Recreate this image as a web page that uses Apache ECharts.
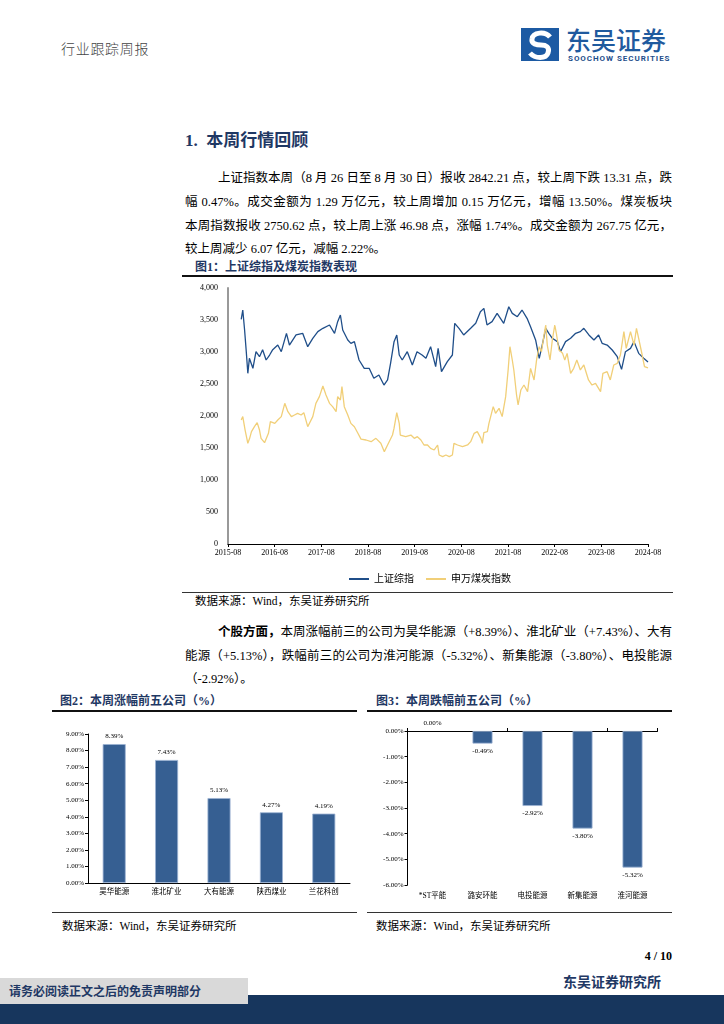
<!DOCTYPE html>
<html><head><meta charset="utf-8">
<script src="https://cdn.jsdelivr.net/npm/echarts/dist/echarts.min.js"></script>
<style>
body{margin:0;width:724px;height:1024px;background:#fff;overflow:hidden;position:relative;font-family:"Liberation Serif","Noto Sans CJK SC",serif;color:#000;}
.a{position:absolute;}
.t{position:absolute;white-space:nowrap;}
.j{position:absolute;text-align:justify;text-align-last:justify;font-size:12.5px;line-height:24px;height:24px;overflow:visible;}
.hd{font-weight:bold;color:#1f3864;font-size:12px;}
.src{font-size:11.5px;}
</style></head><body>

<div class="t" style="left:61px;top:38px;font-size:14px;color:#444;letter-spacing:0.7px;font-family:'Noto Sans CJK SC';font-weight:300">行业跟踪周报</div>
<svg class="a" style="left:521px;top:28px" width="38" height="33"><rect width="38" height="33" fill="#1c5aa3"/><path d="M29,9 C24,3 12,4 11,11 C10,16 16,17 20,17 C25,17 29,19 27,25 C25,31 14,31 9,25" fill="none" stroke="#fff" stroke-width="5"/></svg>
<div class="t" style="left:566px;top:21px;font-size:25px;color:#1f5a9e;font-family:'Noto Sans CJK SC';font-weight:500">东吴证券</div>
<div class="t" style="left:568px;top:54px;font-size:8px;font-weight:bold;color:#1f4f8c;letter-spacing:0.95px;font-family:Roboto">SOOCHOW SECURITIES</div>

<div class="t" style="left:185px;top:126px;font-size:17px;font-weight:bold;color:#1f3864">1.&nbsp;&nbsp;本周行情回顾</div>

<div class="j" style="left:218px;top:166px;width:454px">上证指数本周（8 月 26 日至 8 月 30 日）报收 2842.21 点，较上周下跌 13.31 点，跌</div>
<div class="j" style="left:185px;top:190px;width:487px">幅 0.47%。成交金额为 1.29 万亿元，较上周增加 0.15 万亿元，增幅 13.50%。煤炭板块</div>
<div class="j" style="left:185px;top:214px;width:487px">本周指数报收 2750.62 点，较上周上涨 46.98 点，涨幅 1.74%。成交金额为 267.75 亿元，</div>
<div class="t" style="left:185px;top:237px;font-size:12.5px;line-height:24px">较上周减少 6.07 亿元，减幅 2.22%。</div>

<div class="t hd" style="left:195px;top:257px">图1：上证综指及煤炭指数表现</div>
<div class="a" style="left:182px;top:275px;width:491px;height:2px;background:#111"></div>
<div id="c1" class="a" style="left:180px;top:280px;width:500px;height:310px"></div>
<div class="a" style="left:182px;top:592px;width:491px;height:1px;background:#333"></div>
<div class="t src" style="left:195px;top:592px">数据来源：Wind，东吴证券研究所</div>

<div class="j" style="left:218px;top:620px;width:454px"><b>个股方面，</b>本周涨幅前三的公司为昊华能源（+8.39%）、淮北矿业（+7.43%）、大有</div>
<div class="j" style="left:185px;top:644px;width:487px">能源（+5.13%），跌幅前三的公司为淮河能源（-5.32%）、新集能源（-3.80%）、电投能源</div>
<div class="t" style="left:185px;top:667px;font-size:12.5px;line-height:24px">（-2.92%）。</div>

<div class="t hd" style="left:60px;top:691px">图2：本周涨幅前五公司（%）</div>
<div class="a" style="left:52px;top:710px;width:305px;height:2px;background:#111"></div>
<div class="t hd" style="left:376px;top:691px">图3：本周跌幅前五公司（%）</div>
<div class="a" style="left:367px;top:710px;width:305px;height:2px;background:#111"></div>
<div id="c2" class="a" style="left:52px;top:715px;width:305px;height:195px"></div>
<div id="c3" class="a" style="left:367px;top:715px;width:310px;height:195px"></div>
<div class="a" style="left:52px;top:912px;width:305px;height:1px;background:#333"></div>
<div class="a" style="left:367px;top:912px;width:305px;height:1px;background:#333"></div>
<div class="t src" style="left:62px;top:917px">数据来源：Wind，东吴证券研究所</div>
<div class="t src" style="left:376px;top:917px">数据来源：Wind，东吴证券研究所</div>

<div class="t" style="right:52px;top:949px;font-size:12px;font-weight:bold">4 / 10</div>
<div class="t" style="left:563px;top:971px;font-size:14px;font-weight:bold;color:#1f3864">东吴证券研究所</div>
<div class="a" style="left:0;top:995px;width:724px;height:29px;background:#17365d"></div>
<div class="a" style="left:0;top:978px;width:248px;height:26px;background:#d9d9d9"></div>
<div class="t" style="left:9px;top:982px;font-size:12px;font-weight:bold;color:#1f3864">请务必阅读正文之后的免责声明部分</div>

<script>
// ---------- Figure 1 data ----------
const shDates = ['2015-12-12','2015-12-24','2016-01-08','2016-01-21','2016-02-03','2016-02-15','2016-03-12','2016-04-06','2016-05-03','2016-05-27','2016-06-24','2016-07-21','2016-08-15','2016-09-24','2016-10-21','2016-12-01','2016-12-24','2017-02-15','2017-04-06','2017-05-15','2017-06-24','2017-08-03','2017-09-12','2017-11-03','2017-12-12','2018-01-06','2018-01-27','2018-02-15','2018-02-27','2018-03-24','2018-04-18','2018-05-15','2018-06-21','2018-08-01','2018-09-09','2018-10-15','2018-11-24','2019-01-03','2019-02-01','2019-02-24','2019-03-21','2019-04-12','2019-05-01','2019-05-24','2019-07-03','2019-08-12','2019-09-18','2019-10-27','2019-11-27','2020-01-03','2020-01-18','2020-02-12','2020-03-01','2020-03-27','2020-05-12','2020-06-21','2020-07-09','2020-08-12','2020-09-18','2020-11-12','2020-12-21','2021-01-27','2021-02-24','2021-03-18','2021-04-27','2021-06-06','2021-07-27','2021-09-06','2021-10-03','2021-11-12','2021-12-18','2022-01-27','2022-02-24','2022-04-03','2022-05-01','2022-05-24','2022-06-21','2022-07-15','2022-08-12','2022-09-21','2022-10-15','2022-11-24','2023-01-03','2023-02-12','2023-03-18','2023-04-15','2023-05-24','2023-07-03','2023-08-09','2023-09-06','2023-10-15','2023-11-24','2024-01-03','2024-02-06','2024-03-06','2024-04-15','2024-05-12','2024-06-18','2024-07-27','2024-08-30'];
const shValues = [3510,3656,3344,3005,2667,2901,2745,3005,2927,3036,2875,2953,3036,3109,3005,3292,3109,3266,3292,3083,3214,3318,3370,3422,3292,3474,3578,3344,3318,3188,3135,3162,2875,2745,2745,2589,2641,2484,2563,2823,3162,3266,2953,2875,3005,2797,3005,2953,2901,3083,3109,2771,3057,2693,2849,2953,3448,3370,3266,3370,3448,3630,3682,3422,3474,3604,3448,3708,3604,3552,3656,3526,3396,3188,2901,3109,3370,3292,3214,3162,3005,3162,3214,3292,3318,3370,3266,3188,3266,3135,3109,3031,2927,2729,3005,3057,3162,2979,2901,2842];

const coalDates = ['2015-12-12','2015-12-24','2016-01-12','2016-02-03','2016-02-17','2016-03-01','2016-03-24','2016-04-15','2016-05-03','2016-05-15','2016-06-12','2016-07-12','2016-07-27','2016-09-01','2016-09-24','2016-10-21','2016-11-18','2016-12-01','2016-12-12','2017-01-09','2017-02-03','2017-02-27','2017-03-24','2017-04-15','2017-05-15','2017-06-24','2017-07-18','2017-08-15','2017-09-12','2017-10-06','2017-11-03','2017-11-27','2017-12-24','2018-01-06','2018-01-27','2018-02-09','2018-02-27','2018-03-24','2018-04-18','2018-05-15','2018-06-09','2018-07-06','2018-08-15','2018-09-24','2018-11-01','2018-12-09','2019-01-06','2019-02-01','2019-03-09','2019-03-21','2019-04-12','2019-05-01','2019-05-09','2019-05-24','2019-06-21','2019-07-03','2019-08-01','2019-08-27','2019-09-21','2019-10-18','2019-11-12','2019-12-09','2020-01-03','2020-02-01','2020-02-27','2020-03-09','2020-04-06','2020-05-01','2020-05-27','2020-06-21','2020-07-03','2020-08-01','2020-09-09','2020-10-18','2020-11-12','2020-12-09','2021-01-03','2021-02-01','2021-02-12','2021-02-24','2021-03-21','2021-04-03','2021-05-06','2021-05-24','2021-06-21','2021-07-15','2021-08-12','2021-09-01','2021-09-15','2021-10-03','2021-10-15','2021-11-06','2021-11-18','2021-12-09','2022-01-03','2022-02-01','2022-02-24','2022-03-21','2022-04-12','2022-05-01','2022-05-18','2022-06-06','2022-06-21','2022-07-03','2022-07-24','2022-08-12','2022-09-01','2022-09-15','2022-10-03','2022-11-01','2022-11-18','2022-12-06','2023-01-03','2023-01-27','2023-02-21','2023-03-18','2023-04-15','2023-05-21','2023-06-18','2023-07-15','2023-08-24','2023-09-12','2023-10-15','2023-11-09','2023-12-06','2024-01-03','2024-01-27','2024-02-24','2024-03-12','2024-04-15','2024-05-12','2024-06-01','2024-06-18','2024-07-15','2024-08-03','2024-08-30'];
const coalValues = [1937,1990,1781,1573,1651,1755,1833,1896,1781,1651,1583,1729,1911,1885,1937,1990,2198,2208,2068,1990,2016,2042,2016,2052,1833,1990,2198,2302,2469,2328,2198,2146,2068,2302,2250,2458,2146,2016,1885,1833,1742,1638,1625,1599,1651,1573,1443,1547,1703,1810,2052,1885,1703,1729,1677,1703,1703,1651,1677,1625,1547,1547,1495,1469,1547,1391,1365,1391,1365,1391,1573,1547,1521,1547,1599,1729,1755,1651,1573,1740,1755,1885,2146,2042,2120,1990,2302,2719,3083,2875,2719,2328,2172,2406,2484,2380,2745,2563,2901,3083,3005,3240,3422,3109,2875,3188,3422,3266,3031,2979,2875,2979,2667,2745,2875,2719,2797,2563,2484,2510,2380,2667,2693,2563,2797,2823,2953,3318,3057,3318,3109,3370,3214,2953,2771,2751];

const xTickYears = ['2015-08','2016-08','2017-08','2018-08','2019-08','2020-08','2021-08','2022-08','2023-08','2024-08'];
const seriesNames = ['上证综指','申万煤炭指数'];

// ---------- Figure 2 / 3 data ----------
const gainNames = ['昊华能源','淮北矿业','大有能源','陕西煤业','兰花科创'];
const gainValues = [8.39,7.43,5.13,4.27,4.19];
const lossNames = ['*ST平能','潞安环能','电投能源','新集能源','淮河能源'];
const lossValues = [0.00,-0.49,-2.92,-3.80,-5.32];

const SERIF = '"Liberation Serif","Noto Sans CJK SC",serif';
function toM(s){const p=s.split('-').map(Number);return (p[0]-2015)*12+(p[1]-9)+p[2]/30;}
function pairs(d,v){return d.map((x,i)=>[toM(x),v[i]]);}

const c1 = echarts.init(document.getElementById('c1'));
c1.setOption({
  animation:false,
  grid:{left:48,top:8,width:420,height:256},
  legend:{top:289,left:'center',itemGap:12,itemWidth:20,itemHeight:2,icon:'rect',
    textStyle:{fontSize:10,fontFamily:SERIF,color:'#000'},data:seriesNames},
  xAxis:{type:'value',min:0,max:108,interval:12,
    axisLine:{lineStyle:{color:'#000',width:1}},
    axisTick:{show:true,length:3,lineStyle:{color:'#000'}},
    axisLabel:{fontSize:8,fontFamily:SERIF,color:'#000',margin:5,formatter:v=>xTickYears[Math.round(v/12)]},
    splitLine:{show:false}},
  yAxis:{type:'value',min:0,max:4000,interval:500,
    axisLine:{show:true,lineStyle:{color:'#999',width:2}},
    axisTick:{show:false},
    axisLabel:{fontSize:8,fontFamily:SERIF,color:'#000',margin:10,formatter:v=>v.toLocaleString('en-US')},
    splitLine:{show:false}},
  series:[
    {name:seriesNames[0],type:'line',showSymbol:false,data:pairs(shDates,shValues),lineStyle:{width:1.3,color:'#1f4e89'},itemStyle:{color:'#1f4e89'}},
    {name:seriesNames[1],type:'line',showSymbol:false,data:pairs(coalDates,coalValues),lineStyle:{width:1.3,color:'#f1cf78'},itemStyle:{color:'#f1cf78'}}
  ]
});

const barColor='#365f92';
const c2 = echarts.init(document.getElementById('c2'));
c2.setOption({
  animation:false,
  grid:{left:36,top:19,width:262,height:149},
  xAxis:{type:'category',data:gainNames,
    axisLine:{lineStyle:{color:'#000'}},axisTick:{length:3,lineStyle:{color:'#000'}},
    axisLabel:{fontSize:7.5,color:'#000',margin:5,fontFamily:SERIF}},
  yAxis:{type:'value',min:0,max:9,interval:1,
    axisLine:{show:true,lineStyle:{color:'#000'}},axisTick:{show:true,length:3,lineStyle:{color:'#000'}},
    splitLine:{show:false},
    axisLabel:{fontSize:7,color:'#000',margin:4,fontFamily:SERIF,formatter:v=>v.toFixed(2)+'%'}},
  series:[{type:'bar',data:gainValues,barWidth:23,
    itemStyle:{color:barColor,borderColor:'#9cb3d3',borderWidth:0.8},
    label:{show:true,position:'top',distance:4,fontSize:7,color:'#000',fontFamily:SERIF,formatter:p=>p.value.toFixed(2)+'%'}}]
});

const c3 = echarts.init(document.getElementById('c3'));
c3.setOption({
  animation:false,
  grid:{left:40.5,top:16,width:250,height:154},
  xAxis:[
    {type:'category',data:lossNames,position:'bottom',
      axisLine:{show:false,onZero:false},axisTick:{show:false},
      axisLabel:{fontSize:7.5,color:'#000',margin:7,fontFamily:SERIF}},
    {type:'category',data:lossNames,position:'top',
      axisLine:{show:true,onZero:false,lineStyle:{color:'#000'}},axisTick:{show:true,length:3,lineStyle:{color:'#000'}},
      axisLabel:{show:false}}
  ],
  yAxis:{type:'value',min:-6,max:0,interval:1,
    axisLine:{show:true,lineStyle:{color:'#000'}},axisTick:{show:true,length:3,lineStyle:{color:'#000'}},
    splitLine:{show:false},
    axisLabel:{fontSize:7,color:'#000',margin:4,fontFamily:SERIF,formatter:v=>v.toFixed(2)+'%'}},
  series:[{type:'bar',xAxisIndex:0,barWidth:20,
    data:lossValues.map(v=>({value:v,label:{position:v===0?'top':'bottom'},itemStyle:v===0?{borderWidth:0}:{}})),
    itemStyle:{color:barColor,borderColor:'#9cb3d3',borderWidth:0.8},
    label:{show:true,distance:4,fontSize:7,color:'#000',fontFamily:SERIF,formatter:p=>p.value.toFixed(2)+'%'}}]
});
</script>
</body></html>
